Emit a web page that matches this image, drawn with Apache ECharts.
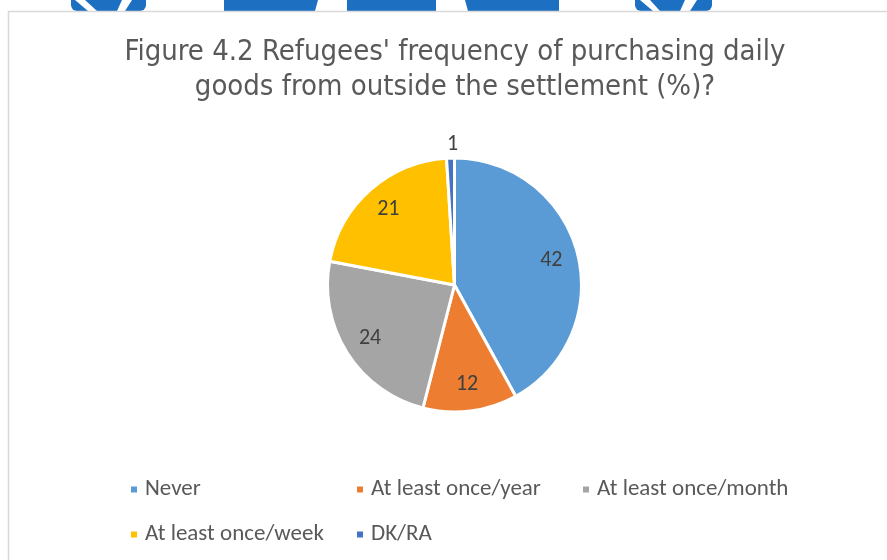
<!DOCTYPE html>
<html>
<head>
<meta charset="utf-8">
<script src="https://cdn.jsdelivr.net/npm/echarts@6/dist/echarts.min.js"></script>
<style>
  html, body { margin: 0; padding: 0; background: #fff; }
  #chart { width: 887px; height: 560px; }
</style>
</head>
<body>
<div id="chart"></div>
<script>
// Purchase frequency categories and their shares (%)
const categories = ['Never', 'At least once/year', 'At least once/month', 'At least once/week', 'DK/RA'];
const shares = [42, 12, 24, 21, 1];
const palette = ['#5B9BD5', '#ED7D31', '#A5A5A5', '#FFC000', '#4472C4'];
const titleText = "Figure 4.2 Refugees' frequency of purchasing daily\ngoods from outside the settlement (%)?";

const chart = echarts.init(document.getElementById('chart'), null, { renderer: 'canvas' });

const center = [454.5, 285];
const pieRadius = 127;
const labelFont = "Calibri, Carlito, Lato, sans-serif";

// Slices with a white separator; only the tiny slice carries its label outside
const sliceData = categories.map((name, i) => ({
  name,
  value: shares[i],
  itemStyle: { color: palette[i] },
  label: i === 4 ? { show: true } : { show: false }
}));

// Transparent ring used only to position inside labels further out
const labelData = categories.map((name, i) => ({
  name,
  value: shares[i],
  label: { show: i !== 4 }
}));

// Blue banner shapes along the top edge
const blue = '#1D6FC1';
const bannerShapes = [
  { type: 'rect', shape: { x: 71, y: 0, width: 75, height: 11, r: [0, 0, 6, 6] }, style: { fill: blue } },
  { type: 'polygon', shape: { points: [[75, 0], [85, 0], [97, 11], [88, 11]] }, style: { fill: '#fff' } },
  { type: 'polygon', shape: { points: [[122, 0], [132, 0], [125, 11], [117, 11]] }, style: { fill: '#fff' } },
  { type: 'polygon', shape: { points: [[224, 0], [318, 0], [315, 11], [224, 11]] }, style: { fill: blue } },
  { type: 'rect', shape: { x: 347, y: 0, width: 89, height: 11 }, style: { fill: blue } },
  { type: 'polygon', shape: { points: [[465, 0], [559, 0], [559, 11], [468, 11]] }, style: { fill: blue } },
  { type: 'rect', shape: { x: 635, y: 0, width: 77, height: 11, r: [0, 0, 6, 6] }, style: { fill: blue } },
  { type: 'polygon', shape: { points: [[640, 0], [650, 0], [660, 11], [653, 11]] }, style: { fill: '#fff' } },
  { type: 'polygon', shape: { points: [[685, 0], [697, 0], [690, 11], [680, 11]] }, style: { fill: '#fff' } }
];

chart.setOption({
  backgroundColor: '#ffffff',
  animation: false,
  graphic: [
    ...bannerShapes.map(s => Object.assign({ z: -10, silent: true }, s)),
    {
      type: 'rect', z: -9, silent: true,
      shape: { x: 8.5, y: 11.5, width: 900, height: 600 },
      style: { fill: '#ffffff', stroke: '#D9D9D9', lineWidth: 1.5 }
    }
  ],
  title: {
    text: titleText,
    left: 450,
    textAlign: 'center',
    top: 30,
    textStyle: {
      fontFamily: "'Liberation Sans Narrow', 'DejaVu Sans Condensed', sans-serif",
      fontSize: 29,
      fontWeight: 'normal',
      color: '#595959',
      lineHeight: 35
    }
  },
  legend: {
    data: categories,
    left: 129,
    top: 472,
    width: 690,
    padding: 0,
    orient: 'horizontal',
    icon: 'rect',
    itemWidth: 8,
    itemHeight: 8,
    itemGap: 10,
    selectedMode: false,
    textStyle: {
      fontFamily: labelFont,
      fontSize: 23,
      color: '#595959',
      width: 200,
      padding: [0, 0, 0, 2],
      lineHeight: 35
    }
  },
  series: [
    {
      type: 'pie',
      center,
      radius: [0, pieRadius],
      startAngle: 90,
      clockwise: true,
      silent: true,
      data: sliceData,
      itemStyle: { borderColor: '#ffffff', borderWidth: 3 },
      label: {
        position: 'outside',
        formatter: '{c}',
        fontFamily: labelFont,
        fontSize: 22,
        color: '#404040',
        distanceToLabelLine: -8
      },
      labelLine: { show: false, length: 14, length2: 0 },
      emphasis: { disabled: true }
    },
    {
      type: 'pie',
      center,
      radius: [0, 194],
      startAngle: 90,
      clockwise: true,
      silent: true,
      data: labelData,
      itemStyle: { color: 'rgba(0,0,0,0)' },
      label: {
        position: 'inside',
        formatter: '{c}',
        fontFamily: labelFont,
        fontSize: 22,
        color: '#404040'
      },
      labelLine: { show: false },
      emphasis: { disabled: true }
    }
  ]
});
</script>
</body>
</html>
